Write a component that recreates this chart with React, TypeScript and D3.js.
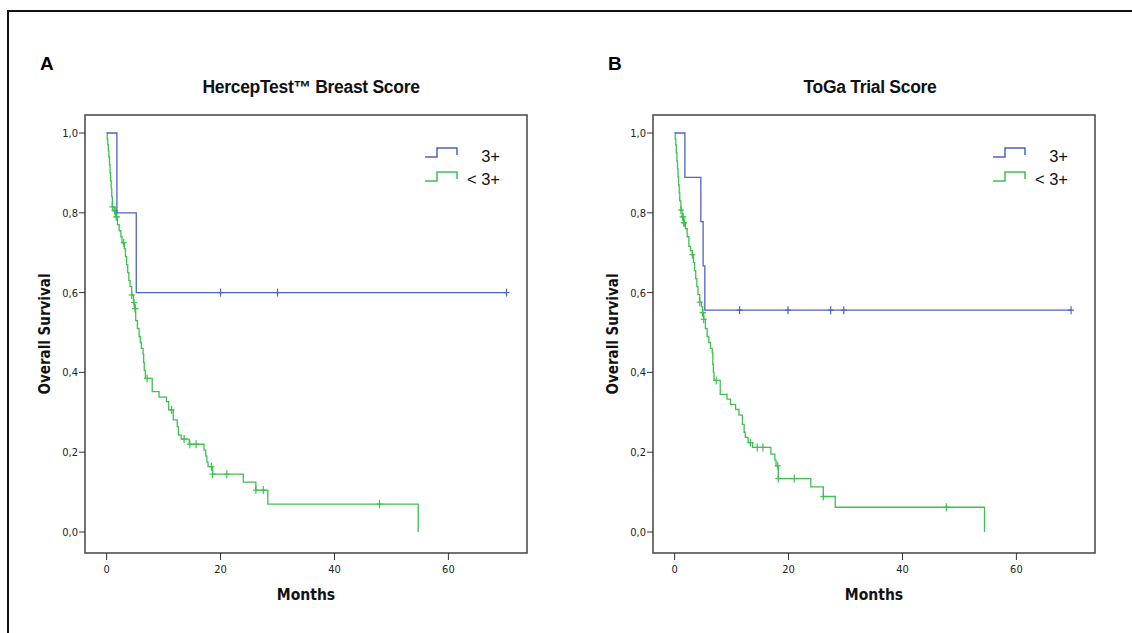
import React from 'react';
import * as d3 from 'd3';

// Panel A: HercepTest Breast Score
const blueA_t = [1.8, 5.2];
const blueA_s = [0.8, 0.6];
const blueA_end = 70.2;
const blueA_cens = [20, 30, 70.2];

const greenA_t = [0.1, 0.2, 0.3, 0.4, 0.5, 0.6, 0.7, 0.8, 0.9, 1.0, 1.3, 1.6, 1.9, 2.2, 2.5, 2.7, 3.1, 3.3, 3.5, 3.7, 3.9, 4.1, 4.4, 4.7, 4.9, 5.1, 5.4, 5.7, 5.9, 6.1, 6.4, 6.5, 6.6, 6.8, 8.0, 9.2, 10.5, 10.9, 11.7, 12.4, 12.6, 13.1, 14.5, 17.1, 17.4, 17.6, 17.8, 18.6, 24.0, 26.2, 28.3, 54.7];
const greenA_s = [0.985, 0.97, 0.955, 0.94, 0.92, 0.9, 0.88, 0.86, 0.84, 0.815, 0.805, 0.79, 0.77, 0.755, 0.74, 0.725, 0.71, 0.69, 0.67, 0.65, 0.63, 0.615, 0.594, 0.575, 0.56, 0.53, 0.51, 0.49, 0.475, 0.46, 0.445, 0.425, 0.405, 0.385, 0.352, 0.338, 0.327, 0.306, 0.281, 0.264, 0.243, 0.233, 0.22, 0.205, 0.19, 0.175, 0.164, 0.145, 0.125, 0.105, 0.07, 0.0];
const greenA_cens = [1.0, 1.4, 1.5, 1.7, 1.8, 3.0, 4.4, 4.8, 5.0, 5.05, 7.1, 11.4, 13.6, 14.6, 15.7, 18.4, 18.6, 21.1, 26.2, 27.5, 47.9];

// Panel B: ToGa Trial Score
const blueB_t = [1.8, 4.6, 5.0, 5.3];
const blueB_s = [0.889, 0.778, 0.667, 0.556];
const blueB_end = 69.6;
const blueB_cens = [11.4, 19.9, 27.4, 29.7, 69.6];

const greenB_t = [0.1, 0.2, 0.3, 0.4, 0.5, 0.6, 0.7, 0.8, 0.9, 1.1, 1.3, 1.6, 1.9, 2.2, 2.5, 2.8, 3.1, 3.3, 3.5, 3.7, 3.9, 4.1, 4.4, 4.7, 4.9, 5.1, 5.4, 5.7, 6.0, 6.3, 6.6, 6.7, 6.8, 6.9, 8.0, 9.2, 9.8, 10.7, 11.3, 11.9, 12.2, 12.4, 12.9, 13.7, 16.9, 17.6, 17.8, 18.2, 23.9, 26.1, 28.2, 54.4];
const greenB_s = [0.985, 0.97, 0.95, 0.93, 0.91, 0.89, 0.87, 0.85, 0.83, 0.807, 0.79, 0.775, 0.76, 0.74, 0.716, 0.705, 0.695, 0.675, 0.655, 0.635, 0.615, 0.595, 0.576, 0.565, 0.55, 0.533, 0.51, 0.49, 0.475, 0.46, 0.449, 0.42, 0.4, 0.38, 0.345, 0.333, 0.32, 0.307, 0.293, 0.27, 0.25, 0.237, 0.224, 0.212, 0.195, 0.18, 0.166, 0.134, 0.113, 0.089, 0.062, 0.0];
const greenB_cens = [1.1, 1.4, 1.5, 1.6, 1.7, 3.1, 4.4, 4.9, 4.95, 5.1, 7.3, 13.3, 14.5, 15.5, 18.1, 18.2, 21.0, 26.1, 47.7];

const xTicks = [0, 20, 40, 60];
const yTicks = [0, 0.2, 0.4, 0.6, 0.8, 1.0];
const legendLabels = ['3+', '< 3+'];

const BLUE = '#4d63bf';
const GREEN = '#3cc24f';
const narrow = '"DejaVu Sans Condensed", "Liberation Sans Narrow", "Arial Narrow", sans-serif';
const sans = '"Liberation Sans", Arial, sans-serif';

function survAt(ts, ss, t) {
  let s = 1;
  for (let i = 0; i < ts.length; i++) {
    if (ts[i] <= t) s = ss[i];
  }
  return s;
}

function Curve({ x, y, ts, ss, end, cens, color }) {
  const pts = [[0, 1]];
  ts.forEach((t, i) => pts.push([t, ss[i]]));
  if (end != null) pts.push([end, ss[ss.length - 1]]);
  const line = d3.line().x(d => x(d[0])).y(d => y(d[1])).curve(d3.curveStepAfter);
  return (
    <g>
      <path d={line(pts)} fill="none" stroke={color} strokeWidth={1.3} />
      {cens.map((c, i) => {
        const cx = x(c);
        const cy = y(survAt(ts, ss, c));
        return (
          <g key={i} stroke={color} strokeWidth={1.2}>
            <line x1={cx} x2={cx} y1={cy - 4} y2={cy + 4} />
            <line x1={cx - 3} x2={cx + 3} y1={cy} y2={cy} />
          </g>
        );
      })}
    </g>
  );
}

function Panel({ left, letter, title, titleX, blue, green }) {
  const right = left + 442;
  const top = 115, bottom = 553;
  const x = d3.scaleLinear().domain([-3.8, 73.8]).range([left, right]);
  const y = d3.scaleLinear().domain([-0.0526, 1.0451]).range([bottom, top]);
  const midX = (left + right) / 2;
  const midY = (top + bottom) / 2;
  const legendIcon = (ly) => {
    const x0 = right - 102, x1 = right - 90, x2 = right - 70;
    return `M${x0},${ly + 4}H${x1}V${ly - 5}H${x2}V${ly + 2}`;
  };
  return (
    <g>
      <text x={left - 45} y={70} fontFamily={sans} fontWeight="bold" fontSize={19}>{letter}</text>
      <text x={titleX} y={93} textAnchor="middle" fontFamily={sans} fontWeight="bold" fontSize={17.5} letterSpacing={-0.3} fill="#111">{title}</text>
      <rect x={left} y={top} width={right - left} height={bottom - top} fill="none" stroke="#444" strokeWidth={1.5} />
      {yTicks.map(t => (
        <g key={t}>
          <line x1={left - 6} x2={left} y1={y(t)} y2={y(t)} stroke="#333" />
          <text x={left - 7} y={y(t) + 4} textAnchor="end" fontFamily={narrow} fontSize={11} fill="#222">
            {d3.format('.1f')(t).replace('.', ',')}
          </text>
        </g>
      ))}
      {xTicks.map(t => (
        <g key={t}>
          <line x1={x(t)} x2={x(t)} y1={bottom} y2={bottom + 7} stroke="#333" />
          <text x={x(t)} y={bottom + 20} textAnchor="middle" fontFamily={narrow} fontSize={11} fill="#222">{t}</text>
        </g>
      ))}
      <text x={midX} y={600} textAnchor="middle" fontFamily={narrow} fontWeight="bold" fontSize={15.5} fill="#111">Months</text>
      <text transform={`translate(${left - 35},${midY}) rotate(-90)`} textAnchor="middle" fontFamily={narrow} fontWeight="bold" fontSize={15} fill="#111">Overall Survival</text>
      <Curve x={x} y={y} {...green} color={GREEN} />
      <Curve x={x} y={y} {...blue} color={BLUE} />
      <path d={legendIcon(153)} fill="none" stroke={BLUE} strokeWidth={1.5} />
      <path d={legendIcon(177)} fill="none" stroke={GREEN} strokeWidth={1.5} />
      <text x={right - 27} y={162} textAnchor="end" fontFamily={sans} fontSize={16.5} fill="#111">{legendLabels[0]}</text>
      <text x={right - 27} y={185} textAnchor="end" fontFamily={sans} fontSize={16.5} fill="#111">{legendLabels[1]}</text>
    </g>
  );
}

export default function App() {
  return (
    <svg width={1132} height={633} style={{ position: 'absolute', left: 0, top: 0, display: 'block', background: '#fff' }}>
      <rect x={0} y={0} width={1132} height={633} fill="#fff" />
      <path d="M8,640V11H1140" fill="none" stroke="#111" strokeWidth={2} />
      <Panel left={85} letter="A" title="HercepTest™ Breast Score" titleX={311}
        blue={{ ts: blueA_t, ss: blueA_s, end: blueA_end, cens: blueA_cens }}
        green={{ ts: greenA_t, ss: greenA_s, end: null, cens: greenA_cens }} />
      <Panel left={653} letter="B" title="ToGa Trial Score" titleX={870}
        blue={{ ts: blueB_t, ss: blueB_s, end: blueB_end, cens: blueB_cens }}
        green={{ ts: greenB_t, ss: greenB_s, end: null, cens: greenB_cens }} />
    </svg>
  );
}
